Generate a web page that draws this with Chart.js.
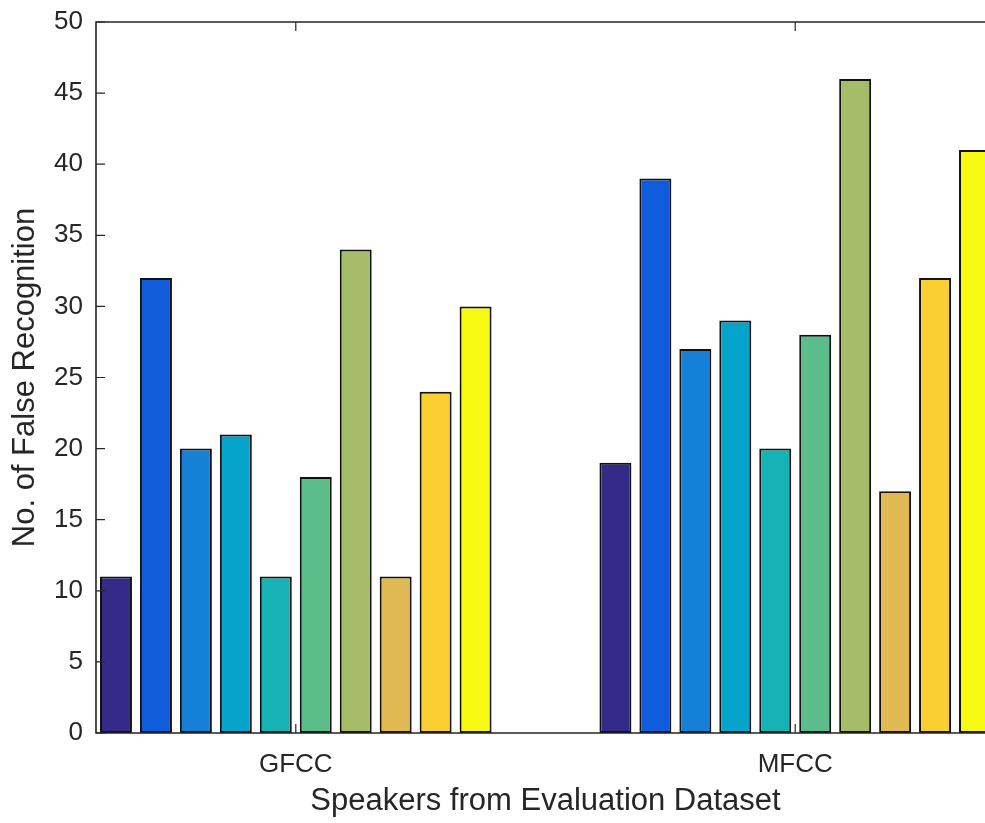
<!DOCTYPE html>
<html>
<head>
<meta charset="utf-8">
<script src="https://cdn.jsdelivr.net/npm/chart.js@4/dist/chart.umd.min.js"></script>
<style>
  html, body { margin: 0; padding: 0; background: #ffffff; overflow: hidden; width: 985px; height: 823px; }
  #wrap { position: absolute; left: 0; top: 0; width: 1000px; height: 823px; }
</style>
</head>
<body>
<div id="wrap"><canvas id="c" width="1000" height="823"></canvas></div>
<script>
// ---- data ----
const categories = ['GFCC', 'MFCC'];
const speakers = ['Speaker 1','Speaker 2','Speaker 3','Speaker 4','Speaker 5','Speaker 6','Speaker 7','Speaker 8','Speaker 9','Speaker 10'];
const gfccValues = [11, 32, 20, 21, 11, 18, 34, 11, 24, 30];
const mfccValues = [19, 39, 27, 29, 20, 28, 46, 17, 32, 41];
const barColors = ['#352a87', '#0f5cdd', '#1481d6', '#06a4ca', '#16b2b4', '#5abd8a', '#a5bd69', '#e0b952', '#fbcf2f', '#f7f910'];
const yTicks = [0, 5, 10, 15, 20, 25, 30, 35, 40, 45, 50];
const xTickPositions = [1, 2];

const AXIS = '#262626';
const FONT = "'Liberation Sans', Arial, Helvetica, sans-serif";

const datasets = speakers.map((name, i) => ({
  label: name,
  data: [ { x: xTickPositions[0], y: gfccValues[i] }, { x: xTickPositions[1], y: mfccValues[i] } ],
  backgroundColor: barColors[i],
  borderColor: '#111111',
  borderWidth: 2,
  borderSkipped: false,
  categoryPercentage: 0.8,
  barPercentage: 0.8
}));

const boxPlugin = {
  id: 'matlabBox',
  afterDatasetsDraw(chart) {
    const { ctx, chartArea: a, scales: { x, y } } = chart;
    const tl = 9;
    ctx.save();
    ctx.strokeStyle = AXIS;
    ctx.lineWidth = 1.6;
    ctx.beginPath();
    ctx.rect(a.left, a.top, a.right - a.left, a.bottom - a.top);
    ctx.stroke();
    ctx.lineWidth = 1.2;
    ctx.beginPath();
    yTicks.forEach(v => {
      const py = y.getPixelForValue(v);
      ctx.moveTo(a.left, py); ctx.lineTo(a.left + tl, py);
      ctx.moveTo(a.right, py); ctx.lineTo(a.right - tl, py);
    });
    xTickPositions.forEach(v => {
      const px = x.getPixelForValue(v);
      ctx.moveTo(px, a.bottom); ctx.lineTo(px, a.bottom - tl);
      ctx.moveTo(px, a.top); ctx.lineTo(px, a.top + tl);
    });
    ctx.stroke();
    ctx.restore();
  }
};

new Chart(document.getElementById('c'), {
  type: 'bar',
  data: { datasets },
  options: {
    responsive: false,
    animation: false,
    layout: { padding: { left: 0, top: 22, right: 5, bottom: 0 } },
    plugins: { legend: { display: false }, tooltip: { enabled: false } },
    scales: {
      x: {
        type: 'linear',
        min: 0.6,
        max: 2.4,
        offset: false,
        grid: { display: false, drawTicks: false },
        border: { display: false },
        afterBuildTicks: (s) => { s.ticks = xTickPositions.map(v => ({ value: v })); },
        afterFit: (s) => { s.height = 90; s.paddingLeft = 0; s.paddingRight = 0; },
        ticks: {
          autoSkip: false,
          maxRotation: 0,
          padding: 16,
          color: AXIS,
          font: { family: FONT, size: 26 },
          callback: (v) => categories[xTickPositions.indexOf(v)] || ''
        },
        title: {
          display: true,
          text: 'Speakers from Evaluation Dataset',
          color: AXIS,
          font: { family: FONT, size: 31 },
          padding: { top: 0, bottom: 3 }
        }
      },
      y: {
        min: 0,
        max: 50,
        grid: { display: false, drawTicks: false },
        border: { display: false },
        afterBuildTicks: (s) => { s.ticks = yTicks.map(v => ({ value: v })); },
        afterFit: (s) => { s.width = 96; s.paddingTop = 0; s.paddingBottom = 0; },
        ticks: {
          padding: 13,
          color: AXIS,
          font: { family: FONT, size: 26 }
        },
        title: {
          display: true,
          text: 'No. of False Recognition',
          color: AXIS,
          font: { family: FONT, size: 31 },
          padding: { top: 7, bottom: 0 }
        }
      }
    }
  },
  plugins: [boxPlugin]
});
</script>
</body>
</html>
